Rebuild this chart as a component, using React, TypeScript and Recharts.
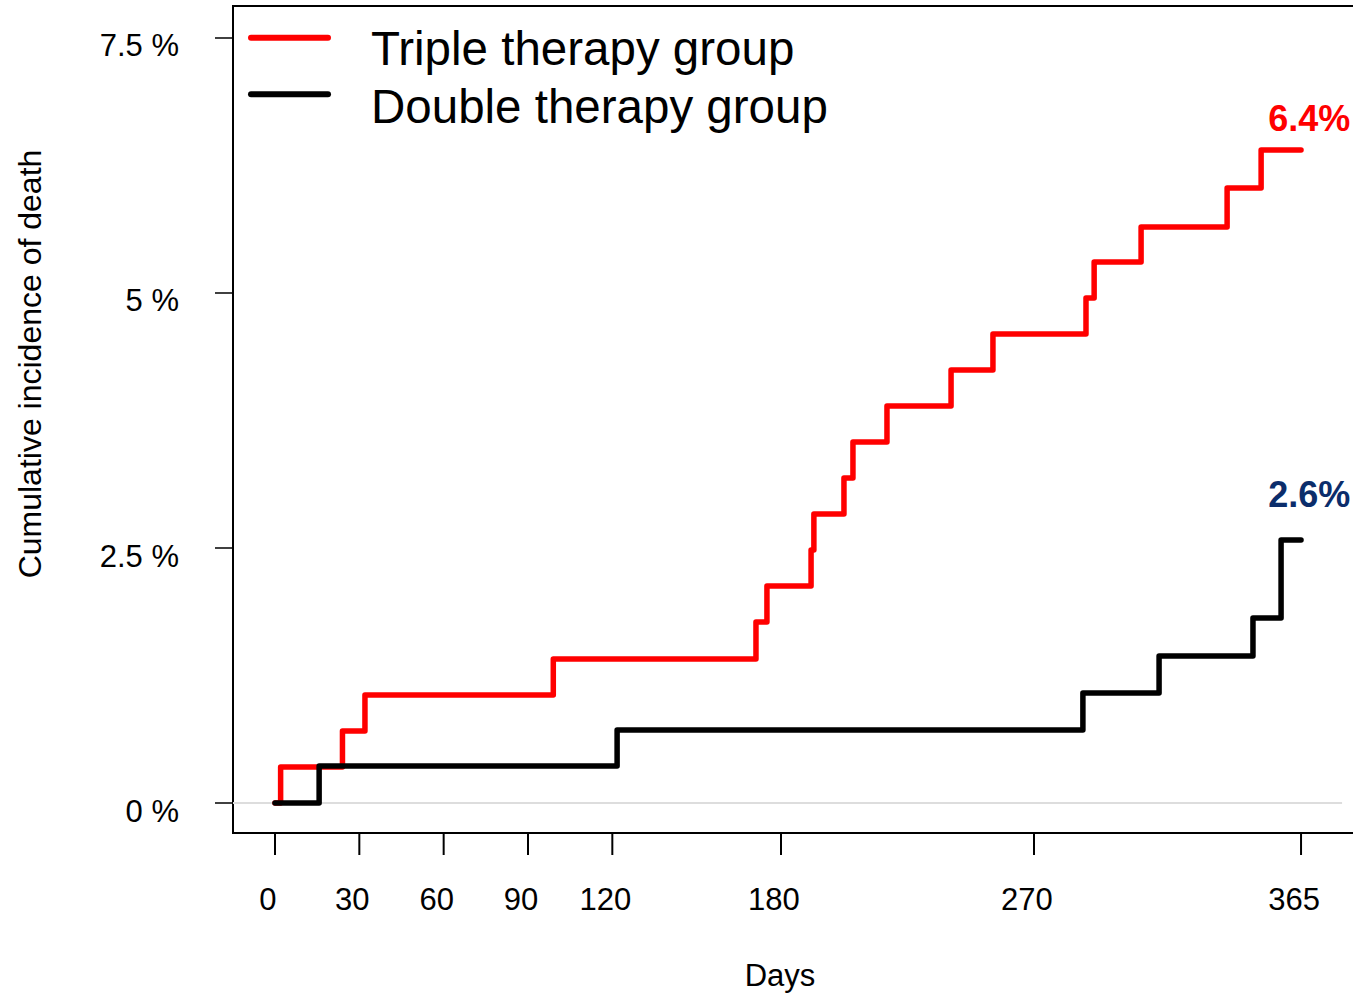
import React from 'react';
import {
  ComposedChart,
  Line,
  XAxis,
  YAxis,
  ReferenceArea,
  ReferenceLine,
  Scatter,
  Legend,
  Label,
} from 'recharts';

// ---- Data ----
const seriesNames = ['Triple therapy group', 'Double therapy group'];

const tripleDays = [0, 2, 24, 32, 99, 171.1, 175, 190.7, 191.7, 202.4, 205.6, 217.7, 240.5, 255.4, 288.5, 291.4, 308.1, 338.7, 350.8, 365];
const triplePct = [0, 0.353, 0.706, 1.059, 1.412, 1.775, 2.127, 2.48, 2.833, 3.186, 3.539, 3.892, 4.245, 4.598, 4.951, 5.304, 5.647, 6.029, 6.402, 6.402];

const doubleDays = [0, 15.7, 121.7, 287.4, 314.5, 347.9, 357.9, 365];
const doublePct = [0, 0.363, 0.716, 1.078, 1.441, 1.814, 2.578, 2.578];

const xTicks = [0, 30, 60, 90, 120, 180, 270, 365];
const yTicks = [0, 2.5, 5, 7.5];
const yTickLabels = ['0 %', '2.5 %', '5 %', '7.5 %'];

const endLabelText = ['6.4%', '2.6%'];
const endLabelDay = [353.3, 353.3];
const endLabelPct = [6.588, 2.902];

// ---- Styles ----
const FONT = '"Liberation Sans", Arial, Helvetica, sans-serif';
const COLORS = ['#ff0000', '#000000'];
const LABEL_COLORS = ['#ff0000', '#0b2d6b'];

const X_MIN = -14.94;
const X_MAX = 390.6;
const Y_MIN = -0.2941;
const Y_MAX = 7.8137;

const tripleData = tripleDays.map((d, i) => ({ day: d, pct: triplePct[i] }));
const doubleData = doubleDays.map((d, i) => ({ day: d, pct: doublePct[i] }));
const labelData = endLabelText.map((t, i) => ({ day: endLabelDay[i], pct: endLabelPct[i], text: t, idx: i }));

const XTick = (props: any) => {
  const { x, y, payload } = props;
  return (
    <text x={x - 7} y={y + 55} textAnchor="middle" fontSize={31} fontFamily={FONT} fill="#000">
      {String(payload.value)}
    </text>
  );
};

const YTick = (props: any) => {
  const { x, y, payload } = props;
  const i = yTicks.indexOf(payload.value);
  return (
    <text x={x - 36} y={y + 18.5} textAnchor="end" fontSize={31} fontFamily={FONT} fill="#000">
      {i >= 0 ? yTickLabels[i] : String(payload.value)}
    </text>
  );
};

const EndLabel = (props: any) => {
  const { cx, cy, payload } = props;
  if (cx == null || cy == null) return null;
  return (
    <text x={cx} y={cy} fontSize={36} fontWeight="bold" fontFamily={FONT} fill={LABEL_COLORS[payload.idx]}>
      {payload.text}
    </text>
  );
};

const renderLegend = (props: any) => {
  const payload = (props.payload || [])
    .filter((p: any) => p.type !== 'none' && seriesNames.includes(p.value))
    .slice()
    .sort((a: any, b: any) => seriesNames.indexOf(a.value) - seriesNames.indexOf(b.value));
  return (
    <svg width={900} height={140} style={{ display: 'block' }}>
      {payload.map((p: any, i: number) => (
        <g key={i}>
          <line x1={251} x2={328} y1={37.7 + i * 56.6} y2={37.7 + i * 56.6} stroke={p.color} strokeWidth={6} strokeLinecap="round" />
          <text x={371} y={65 + i * 58.3} fontSize={47.5} fontFamily={FONT} fill="#000">
            {p.value}
          </text>
        </g>
      ))}
    </svg>
  );
};

export default function App() {
  return (
    <div style={{ position: 'absolute', left: 0, top: 0, width: 1353, height: 996, overflow: 'hidden', background: '#fff' }}>
      <ComposedChart width={1380} height={996} margin={{ top: 6, right: 7, bottom: 0, left: 0 }}>
        <XAxis
          type="number"
          dataKey="day"
          domain={[X_MIN, X_MAX]}
          ticks={xTicks}
          interval={0}
          allowDataOverflow
          height={163}
          tickSize={22}
          tickMargin={0}
          axisLine={false}
          tickLine={{ stroke: '#000', strokeWidth: 2 }}
          tick={<XTick />}
        >
          <Label
            content={() => (
              <text x={780} y={986} textAnchor="middle" fontSize={31} fontFamily={FONT} fill="#000">
                Days
              </text>
            )}
          />
        </XAxis>
        <YAxis
          type="number"
          domain={[Y_MIN, Y_MAX]}
          ticks={yTicks}
          interval={0}
          allowDataOverflow
          width={233}
          tickSize={18}
          tickMargin={0}
          axisLine={false}
          tickLine={{ stroke: '#000', strokeWidth: 1.5 }}
          tick={<YTick />}
        >
          <Label
            content={() => (
              <text
                x={41}
                y={364}
                textAnchor="middle"
                fontSize={32}
                fontFamily={FONT}
                fill="#000"
                transform="rotate(-90, 41, 364)"
              >
                Cumulative incidence of death
              </text>
            )}
          />
        </YAxis>
        <ReferenceLine
          segment={[{ x: X_MIN, y: 0 }, { x: 379.6, y: 0 }]}
          stroke="#dddddd"
          strokeWidth={2}
          ifOverflow="visible"
        />
        <ReferenceArea
          x1={X_MIN}
          x2={X_MAX}
          y1={Y_MIN}
          y2={Y_MAX}
          fill="none"
          fillOpacity={0}
          stroke="#000"
          strokeWidth={2}
          ifOverflow="visible"
        />
        <Line
          data={tripleData}
          dataKey="pct"
          name={seriesNames[0]}
          type="stepAfter"
          stroke={COLORS[0]}
          strokeWidth={5.5}
          strokeLinecap="round"
          strokeLinejoin="round"
          dot={false}
          activeDot={false}
          isAnimationActive={false}
        />
        <Line
          data={doubleData}
          dataKey="pct"
          name={seriesNames[1]}
          type="stepAfter"
          stroke={COLORS[1]}
          strokeWidth={5.5}
          strokeLinecap="round"
          strokeLinejoin="round"
          dot={false}
          activeDot={false}
          isAnimationActive={false}
        />
        <Scatter
          data={labelData}
          dataKey="pct"
          shape={EndLabel}
          legendType="none"
          isAnimationActive={false}
        />
        <Legend
          layout="horizontal"
          verticalAlign="middle"
          align="center"
          content={renderLegend}
          wrapperStyle={{ top: 0, left: 0, right: 'auto', bottom: 'auto', width: 900, height: 140 }}
        />
      </ComposedChart>
    </div>
  );
}
